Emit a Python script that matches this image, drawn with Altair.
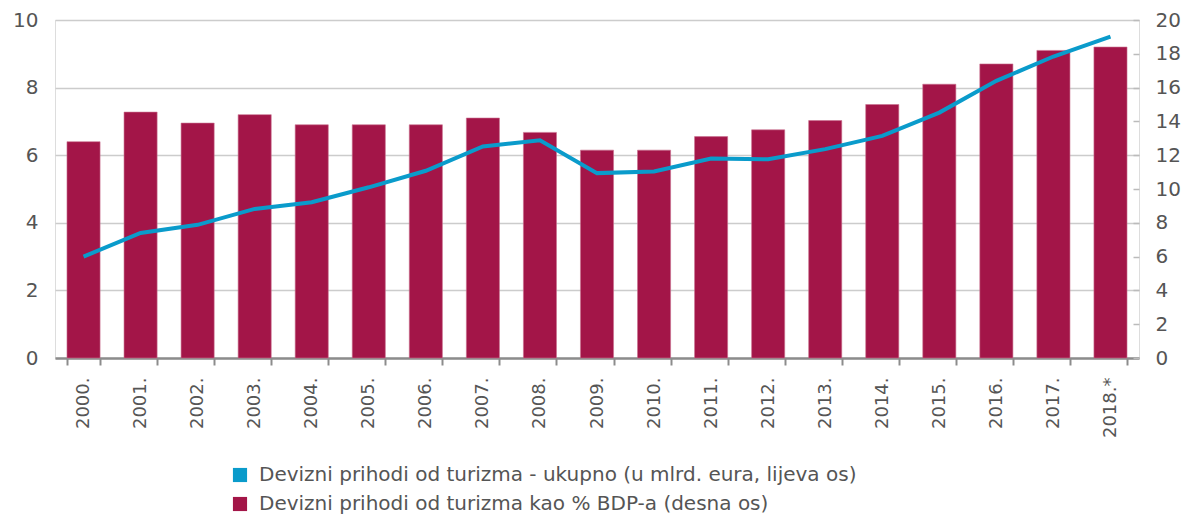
import altair as alt
import pandas as pd

years = ["2000.", "2001.", "2002.", "2003.", "2004.", "2005.", "2006.", "2007.", "2008.", "2009.",
         "2010.", "2011.", "2012.", "2013.", "2014.", "2015.", "2016.", "2017.", "2018.*"]
# Devizni prihodi od turizma kao % BDP-a (desna os)
pct_gdp = [12.8, 14.55, 13.9, 14.4, 13.8, 13.8, 13.8, 14.2, 13.35, 12.3,
           12.3, 13.1, 13.5, 14.05, 15.0, 16.2, 17.4, 18.2, 18.4]
# Devizni prihodi od turizma - ukupno (u mlrd. eura, lijeva os)
eur_bn = [3.0, 3.7, 3.94, 4.41, 4.61, 5.05, 5.54, 6.26, 6.44, 5.47,
          5.52, 5.9, 5.88, 6.18, 6.57, 7.26, 8.2, 8.92, 9.51]

line_label = "Devizni prihodi od turizma - ukupno (u mlrd. eura, lijeva os)"
bar_label = "Devizni prihodi od turizma kao % BDP-a (desna os)"

df = pd.DataFrame({"year": years, "pct": pct_gdp, "eur": eur_bn})

FONT = "DejaVu Sans"
TXT = "#555555"
BLUE = "#0A9BCB"
RED = "#A31548"

color_scale = alt.Scale(domain=[line_label, bar_label], range=[BLUE, RED])

x_enc = alt.X(
    "year:N", sort=years, title=None,
    scale=alt.Scale(paddingInner=0.42, paddingOuter=0.21),
    axis=alt.Axis(labelAngle=270, labelFont=FONT, labelFontSize=18, labelColor=TXT,
                  labelPadding=12, tickBand="extent", tickSize=7, tickWidth=2,
                  tickColor="#8c8c8c", domainColor="#8c8c8c", domainWidth=2.5,
                  grid=False),
)

bars = alt.Chart(df).transform_calculate(series=f"'{bar_label}'").mark_bar(
    color=RED, stroke="#c9708f", strokeWidth=0.6
).encode(
    x=x_enc,
    y=alt.Y("pct:Q", title=None,
            scale=alt.Scale(domain=[0, 20], nice=False),
            axis=alt.Axis(orient="right", values=list(range(0, 21, 2)), grid=False,
                          domain=False, offset=-6, tickSize=6, tickColor="#bbbbbb",
                          tickWidth=1.5, labelFont=FONT, labelFontSize=20,
                          labelColor=TXT, labelPadding=16)),
    color=alt.Color("series:N", scale=color_scale, title=None,
                    legend=alt.Legend(orient="none", legendX=175, legendY=445,
                                      direction="vertical", symbolType="square",
                                      symbolSize=200, symbolStrokeWidth=0,
                                      labelFont=FONT, labelFontSize=20, labelColor=TXT,
                                      labelLimit=1000, rowPadding=9, labelOffset=9)),
)

line = alt.Chart(df).transform_calculate(series=f"'{line_label}'").mark_line(
    strokeWidth=4, color=BLUE
).encode(
    x=x_enc,
    y=alt.Y("eur:Q", title=None,
            scale=alt.Scale(domain=[0, 10], nice=False),
            axis=alt.Axis(orient="left", values=list(range(0, 11, 2)), grid=True,
                          gridColor="#cccccc", gridWidth=1.5, domain=False, ticks=False,
                          labelFont=FONT, labelFontSize=20, labelColor=TXT,
                          labelPadding=17)),
    color=alt.Color("series:N", scale=color_scale, legend=None),
)

chart = alt.layer(bars, line).resolve_scale(y="independent").properties(
    width=1084, height=338,
    autosize=alt.AutoSizeParams(type="none"),
    padding={"left": 47, "top": 12, "right": 50, "bottom": 156},
).configure_view(stroke=None).configure(background="white")

chart.save("out.html", embed_options={"renderer": "svg", "actions": False})
